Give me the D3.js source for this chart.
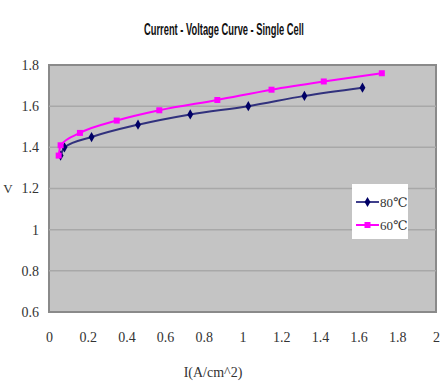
<!DOCTYPE html>
<html><head><meta charset="utf-8">
<script src="https://cdn.jsdelivr.net/npm/d3@7"></script>
<style>body{margin:0;background:#fff}</style>
</head><body><svg id="c" width="448" height="392"></svg>
<script>
const seriesNames = ["80℃", "60℃"];
const seriesColors = ["#000066", "#ff00ff"];
const current80 = [0.06, 0.08, 0.22, 0.46, 0.73, 1.03, 1.32, 1.62];
const voltage80 = [1.36, 1.40, 1.45, 1.51, 1.56, 1.60, 1.65, 1.69];
const current60 = [0.05, 0.06, 0.16, 0.35, 0.57, 0.87, 1.15, 1.42, 1.72];
const voltage60 = [1.36, 1.41, 1.47, 1.53, 1.58, 1.63, 1.68, 1.72, 1.76];
const xTicks = [0, 0.2, 0.4, 0.6, 0.8, 1, 1.2, 1.4, 1.6, 1.8, 2];
const yTicks = [0.6, 0.8, 1, 1.2, 1.4, 1.6, 1.8];

const svg = d3.select("#c");
const L = 49, R = 436, T = 65, B = 312;
const x = d3.scaleLinear().domain([0, 2]).range([L, R]);
const y = d3.scaleLinear().domain([0.6, 1.8]).range([B, T]);

const title = svg.append("text").attr("x", 0).attr("y", 0).attr("text-anchor", "middle")
  .style("font-family", "'Liberation Sans', Arial, sans-serif")
  .style("font-weight", "bold").style("font-size", "17px")
  .attr("fill", "#111").text("Current - Voltage Curve - Single Cell");
const tw = title.node().getComputedTextLength();
title.attr("transform", `translate(224,35) scale(${160 / tw},1)`);

svg.append("rect").attr("x", L).attr("y", T).attr("width", R - L).attr("height", B - T)
  .attr("fill", "#c4c4c4").attr("stroke", "#8a8a8a").attr("stroke-width", 2);

svg.append("g").selectAll("line").data(yTicks.slice(1, -1)).join("line")
  .attr("x1", L).attr("x2", R).attr("y1", d => y(d)).attr("y2", d => y(d))
  .attr("stroke", "#a8a8a8").attr("stroke-width", 1.5);

const tickFont = "'Liberation Serif', 'DejaVu Serif', 'Times New Roman', serif";
const yAxis = svg.append("g").attr("transform", `translate(${L},0)`)
  .call(d3.axisLeft(y).tickValues(yTicks).tickSize(0).tickPadding(10).tickFormat(d3.format("")));
yAxis.select(".domain").remove();
yAxis.attr("font-family", null).attr("font-size", null);
yAxis.selectAll("text").style("font-family", tickFont).style("font-size", "14px").attr("fill", "#333");

const xAxis = svg.append("g").attr("transform", `translate(0,${B})`)
  .call(d3.axisBottom(x).tickValues(xTicks).tickSize(0).tickPadding(20).tickFormat(d3.format("")));
xAxis.select(".domain").remove();
xAxis.attr("font-family", null).attr("font-size", null);
xAxis.selectAll("text").style("font-family", tickFont).style("font-size", "14px").attr("fill", "#333");

svg.append("text").attr("x", 213).attr("y", 377).attr("text-anchor", "middle")
  .style("font-family", tickFont).style("font-size", "14px").attr("fill", "#333").text("I(A/cm^2)");
svg.append("text").attr("x", 8).attr("y", 193).attr("text-anchor", "middle")
  .style("font-family", tickFont).style("font-size", "13px").attr("fill", "#333").text("V");

const series = [
  { xs: current80, ys: voltage80, color: seriesColors[0], shape: d3.symbolDiamond },
  { xs: current60, ys: voltage60, color: seriesColors[1], shape: d3.symbolSquare }
];
const line = d3.line().x(d => x(d[0])).y(d => y(d[1])).curve(d3.curveMonotoneX);
series.forEach(s => {
  const pts = s.xs.map((v, i) => [v, s.ys[i]]);
  svg.append("path").attr("d", line(pts)).attr("fill", "none")
    .attr("stroke", s.color).attr("stroke-width", 2).attr("opacity", s.shape === d3.symbolDiamond ? 0.75 : 1);
  svg.append("g").selectAll("path").data(pts).join("path")
    .attr("transform", d => `translate(${x(d[0])},${y(d[1])})`)
    .attr("d", d3.symbol(s.shape, s.shape === d3.symbolDiamond ? 30 : 36)).attr("fill", s.color);
});

const lg = svg.append("g");
lg.append("rect").attr("x", 352).attr("y", 184).attr("width", 56).attr("height", 55).attr("fill", "#fff");
series.forEach((s, i) => {
  const yy = 202 + i * 23;
  lg.append("line").attr("x1", 356).attr("x2", 379).attr("y1", yy).attr("y2", yy)
    .attr("stroke", s.color).attr("stroke-width", 2).attr("opacity", i === 0 ? 0.75 : 1);
  lg.append("path").attr("transform", `translate(367.5,${yy})`)
    .attr("d", d3.symbol(s.shape, i === 0 ? 30 : 36)).attr("fill", s.color);
  lg.append("text").attr("x", 380).attr("y", yy + 5).style("font-family", tickFont)
    .style("font-size", "13px").attr("fill", "#333").text(seriesNames[i]);
});
</script></body></html>
